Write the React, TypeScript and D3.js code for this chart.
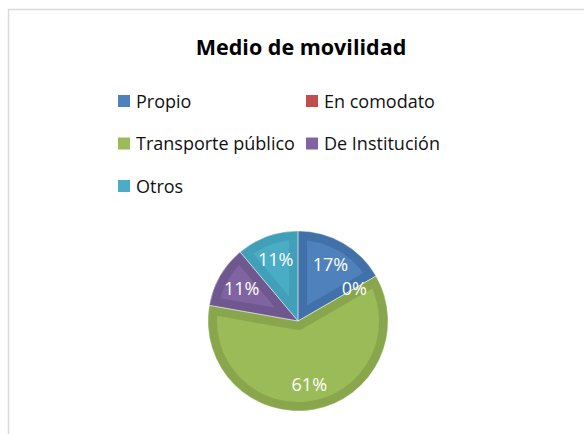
import React, { useEffect, useRef } from 'react';
import * as d3 from 'd3';

const categories = ['Propio', 'En comodato', 'Transporte público', 'De Institución', 'Otros'];
const counts = [3, 0, 11, 2, 2];
const fillColors = ['#4f81bd', '#c0504d', '#9bbb59', '#8064a2', '#4bacc6'];
const edgeColors = ['#4271a9', '#a9443f', '#89a64d', '#6f578f', '#41a0b8'];

const W = 584;
const H = 434;
const FONT = '"Open Sans", sans-serif';

export default function App() {
  const svgRef = useRef<SVGSVGElement>(null);

  useEffect(() => {
    const svg = d3.select(svgRef.current);
    svg.selectAll('*').remove();

    // chart frame (only left + top edges visible)
    svg.append('path')
      .attr('d', `M8.5,${H} V9.5 H${W}`)
      .attr('fill', 'none')
      .attr('stroke', '#d9d9d9')
      .attr('stroke-width', 1.5);

    svg.append('text')
      .attr('x', 301)
      .attr('y', 55)
      .attr('text-anchor', 'middle')
      .attr('font-family', FONT)
      .attr('font-weight', 'bold')
      .attr('font-size', 21.5)
      .attr('fill', '#000')
      .text('Medio de movilidad');

    // legend, two columns
    const colX = [118, 306];
    const legend = svg.append('g');
    const items = legend.selectAll('g')
      .data(categories)
      .join('g')
      .attr('transform', (_, i) => `translate(${colX[i % 2]},${101 + Math.floor(i / 2) * 42.5})`);
    items.append('rect')
      .attr('x', 0)
      .attr('y', -6)
      .attr('width', 12)
      .attr('height', 12)
      .attr('fill', (_, i) => fillColors[i]);
    items.append('text')
      .attr('x', 18)
      .attr('y', 6.5)
      .attr('font-family', FONT)
      .attr('font-size', 18)
      .attr('fill', '#111')
      .text(d => d);

    // pie
    const cx = 298, cy = 321, R = 90;
    const total = d3.sum(counts);
    const pie = d3.pie<number>().sort(null).value(d => d);
    const arcs = pie(counts);
    const arc = d3.arc<d3.PieArcDatum<number>>().innerRadius(0).outerRadius(R);
    const labelArc = d3.arc<d3.PieArcDatum<number>>().innerRadius(65).outerRadius(65);

    const g = svg.append('g').attr('transform', `translate(${cx},${cy})`);
    const defs = svg.append('defs');
    arcs.forEach((a, i) => {
      if (a.value <= 0) return;
      defs.append('clipPath')
        .attr('id', `slice-clip-${i}`)
        .append('path')
        .attr('d', arc(a) as string);
      g.append('path')
        .attr('d', arc(a) as string)
        .attr('fill', fillColors[i])
        .attr('stroke', edgeColors[i])
        .attr('stroke-width', 18)
        .attr('stroke-linejoin', 'round')
        .attr('clip-path', `url(#slice-clip-${i})`);
    });
    // thin separators
    g.selectAll('path.sep')
      .data(arcs.filter(a => a.value > 0))
      .join('path')
      .attr('class', 'sep')
      .attr('d', d => arc(d) as string)
      .attr('fill', 'none')
      .attr('stroke', '#ffffff')
      .attr('stroke-opacity', 0.5)
      .attr('stroke-width', 0.75);

    g.selectAll('text.lbl')
      .data(arcs)
      .join('text')
      .attr('class', 'lbl')
      .attr('transform', d => {
        const [x, y] = labelArc.centroid(d);
        return `translate(${x},${y})`;
      })
      .attr('text-anchor', 'middle')
      .attr('dy', '0.36em')
      .attr('font-family', FONT)
      .attr('font-size', 18)
      .attr('fill', '#fff')
      .text(d => `${Math.round((d.value / total) * 100)}%`);
  }, []);

  return (
    <svg
      ref={svgRef}
      width={W}
      height={H}
      style={{ position: 'absolute', left: 0, top: 0, background: '#fff' }}
    />
  );
}
